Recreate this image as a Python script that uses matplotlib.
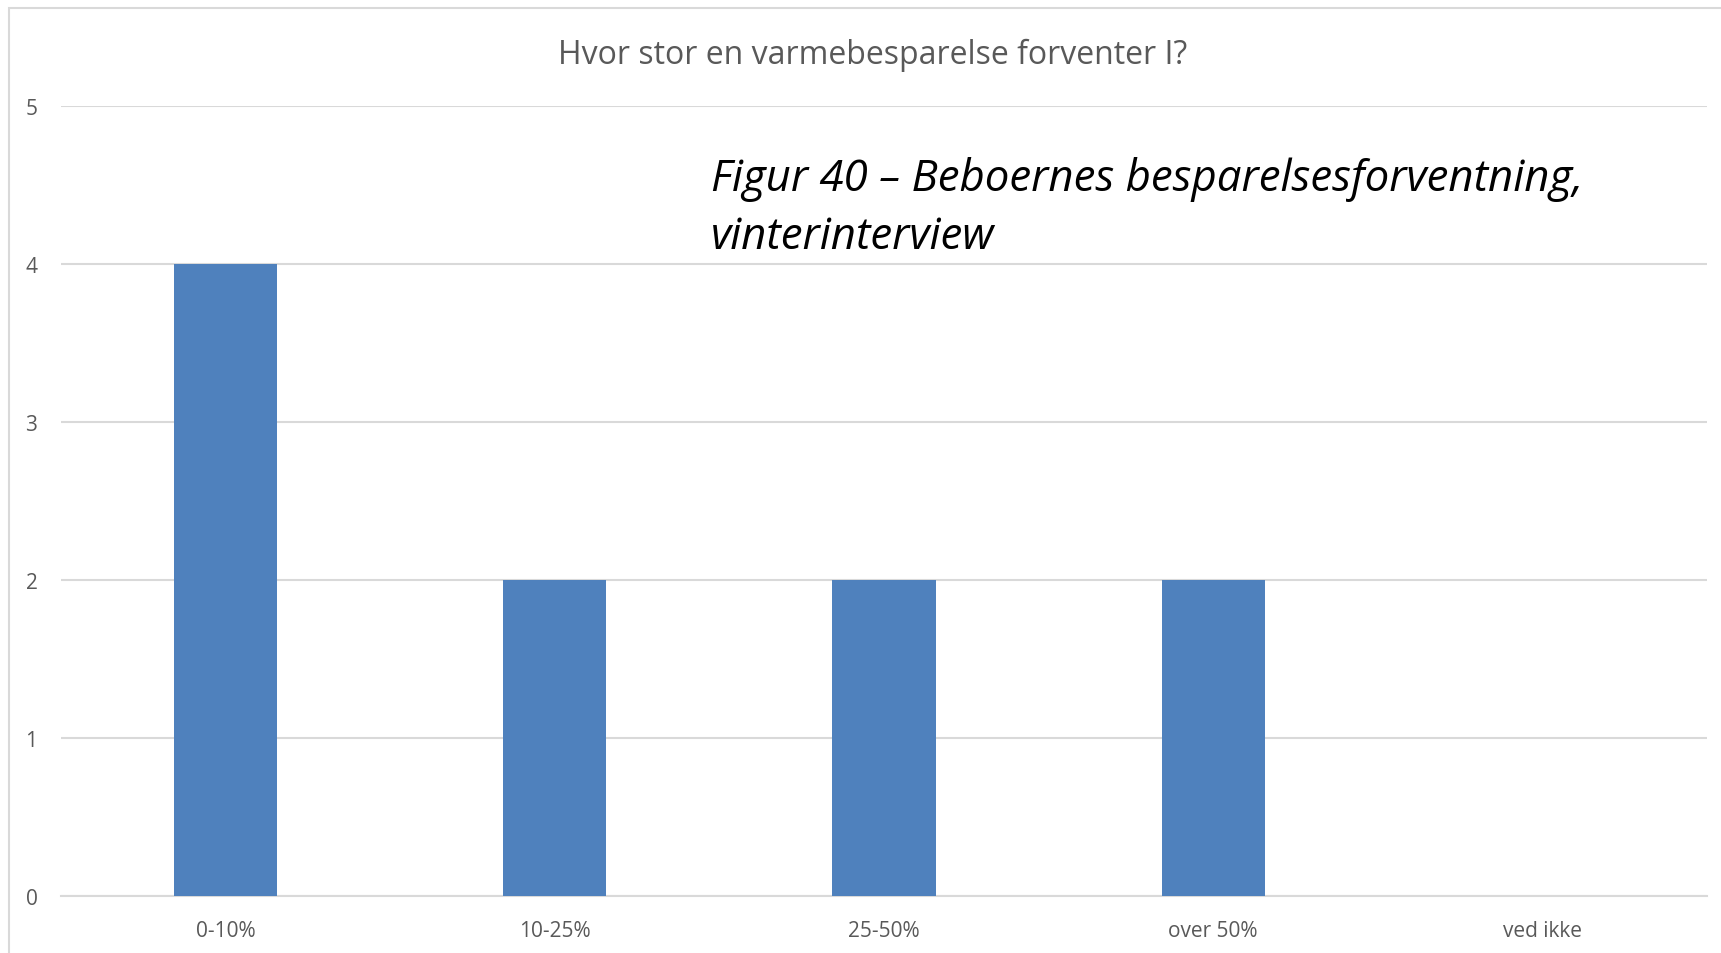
import numpy as np
import matplotlib.pyplot as plt
from matplotlib.patches import Rectangle

# Data
categories = ["0-10%", "10-25%", "25-50%", "over 50%", "ved ikke"]
counts = [4, 2, 2, 2, 0]
y_ticks = [0, 1, 2, 3, 4, 5]

W, H = 1721, 954
fig = plt.figure(figsize=(W / 100, H / 100), dpi=100)
plt.rcParams['font.family'] = ['Open Sans', 'DejaVu Sans']

# Outer chart border (light gray, runs off the right/bottom edge)
fig.patches.append(Rectangle(
    (9 / W, -0.1), 1.2, 1 - 9 / H + 0.1,
    transform=fig.transFigure, fill=False,
    edgecolor="#D9D9D9", linewidth=1.5
))

# Plot area
ax = fig.add_axes([61 / W, 1 - 897 / H, (1707 - 61) / W, (897 - 107) / H])
x = np.arange(len(categories))
ax.bar(x, counts, width=0.313, color="#4F81BD", zorder=3)

ax.set_xlim(-0.5, len(categories) - 0.5)
ax.set_ylim(0, 5)
ax.set_yticks(y_ticks)
ax.set_xticks(x)
ax.set_xticklabels(categories)
ax.yaxis.grid(True, color="#D9D9D9", linewidth=1.5, zorder=0)
ax.set_axisbelow(True)
for side in ["top", "right", "left"]:
    ax.spines[side].set_visible(False)
ax.spines["bottom"].set_color("#D9D9D9")
ax.spines["bottom"].set_linewidth(1.5)
ax.tick_params(axis="both", length=0, colors="#595959", labelsize=15)
ax.tick_params(axis="y", pad=17)
ax.tick_params(axis="x", pad=17)

# Chart title
fig.text(873 / W, 1 - 55 / H, "Hvor stor en varmebesparelse forventer I?",
         ha="center", va="center", fontsize=23, color="#595959")

# Figure caption pasted over the plot
ax.text(711 / W, 1 - 180 / H, "Figur 40 \u2013 Beboernes besparelsesforventning,",
        transform=fig.transFigure, ha="left", va="center",
        fontsize=31.5, style="italic", color="black")
ax.text(711 / W, 1 - 238 / H, "vinterinterview",
        transform=fig.transFigure, ha="left", va="center",
        fontsize=31.5, style="italic", color="black")

plt.savefig("out.png", dpi=100)
plt.close()
